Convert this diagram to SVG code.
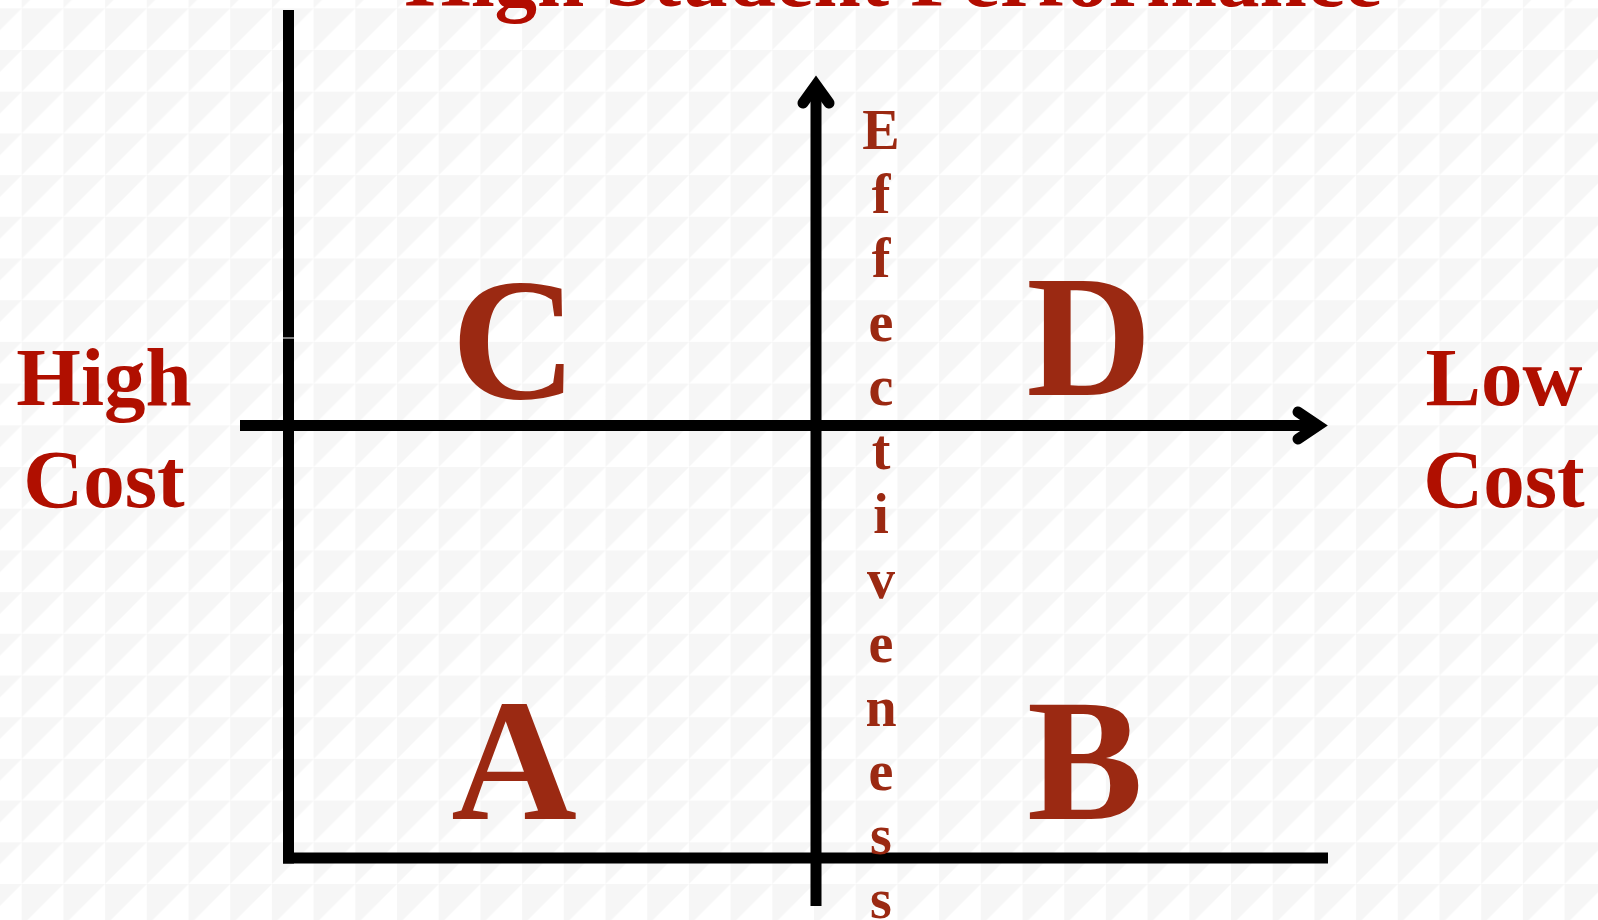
<svg xmlns="http://www.w3.org/2000/svg" width="1598" height="920" viewBox="0 0 1598 920">
  <defs>
    <pattern id="tiles" patternUnits="userSpaceOnUse" x="21.7" y="8.3" width="41.7" height="41.7">
      <rect width="41.7" height="41.7" fill="#ffffff"/>
      <polygon points="0,0 41.7,0 0,41.7" fill="#f6f6f6"/>
    </pattern>
    <style>
      .axis { stroke: #000; stroke-width: 11; fill: none; }
      .head { stroke: #000; stroke-width: 11; fill: none; stroke-linecap: round; stroke-linejoin: miter; stroke-miterlimit: 10; }
      .quad { font-family: "Liberation Serif", "Times New Roman", serif; font-weight: bold; font-size: 174px; fill: #9b2912; text-anchor: middle; }
      .side { font-family: "Liberation Serif", "Times New Roman", serif; font-weight: bold; font-size: 83px; fill: #b00f00; text-anchor: middle; }
      .title { font-family: "Liberation Serif", "Times New Roman", serif; font-weight: bold; font-size: 85px; fill: #b20c00; text-anchor: middle; }
      .eff { font-family: "Liberation Serif", "Times New Roman", serif; font-weight: bold; font-size: 56px; fill: #9b2912; text-anchor: middle; }
    </style>
  </defs>
  <rect width="1598" height="920" fill="url(#tiles)"/>

  <g id="title">
    <text class="title" x="893.5" y="6">High Student Performance</text>
  </g>

  <g id="connectors">
    <line class="axis" x1="288.5" y1="10" x2="288.5" y2="337.5"/>
    <line class="axis" x1="288.5" y1="338.5" x2="288.5" y2="863.5"/>
    <line class="axis" x1="283" y1="858" x2="1328" y2="858"/>
    <line class="axis" x1="240" y1="425.5" x2="1318" y2="425.5"/>
    <polyline class="head" points="1298,412 1318,425.5 1298,439"/>
    <line class="axis" x1="816" y1="85" x2="816" y2="906"/>
    <polyline class="head" points="803,103 816,85 829,103"/>
  </g>

  <g id="quadrant-C"><text class="quad" x="514" y="398">C</text></g>
  <g id="quadrant-D"><text class="quad" x="1089" y="395">D</text></g>
  <g id="quadrant-A"><text class="quad" x="514" y="819">A</text></g>
  <g id="quadrant-B"><text class="quad" x="1085" y="819">B</text></g>

  <g id="high-cost">
    <text class="side" x="104" y="405">High</text>
    <text class="side" x="104" y="507">Cost</text>
  </g>
  <g id="low-cost">
    <text class="side" x="1504" y="405">Low</text>
    <text class="side" x="1504" y="507">Cost</text>
  </g>

  <g id="effectiveness">
    <text class="eff" x="881" y="148.6">E</text>
    <text class="eff" x="881" y="212.7">f</text>
    <text class="eff" x="881" y="276.9">f</text>
    <text class="eff" x="881" y="341">e</text>
    <text class="eff" x="881" y="405.2">c</text>
    <text class="eff" x="881" y="469.3">t</text>
    <text class="eff" x="881" y="533.4">i</text>
    <text class="eff" x="881" y="597.6">v</text>
    <text class="eff" x="881" y="661.7">e</text>
    <text class="eff" x="881" y="725.9">n</text>
    <text class="eff" x="881" y="790">e</text>
    <text class="eff" x="881" y="854.1">s</text>
    <text class="eff" x="881" y="918.3">s</text>
  </g>
</svg>
